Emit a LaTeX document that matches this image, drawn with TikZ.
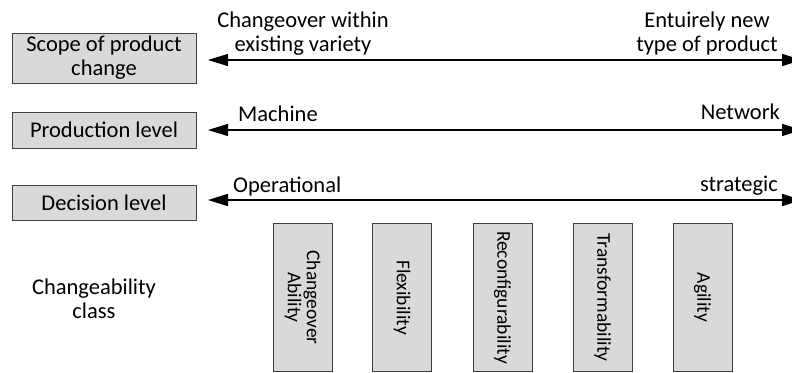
\documentclass[tikz,border=0pt]{standalone}
\usepackage{fontspec}
\setmainfont{Carlito}
\usetikzlibrary{arrows.meta}
\definecolor{boxfill}{HTML}{D9D9D9}
\definecolor{boxline}{HTML}{404040}
\begin{document}
\begin{tikzpicture}[x=1pt,y=-1pt,
  lbox/.style={draw=boxline, fill=boxfill, line width=0.8pt, minimum width=184pt, inner sep=0pt, align=center, font=\fontsize{22.5}{24}\selectfont},
  vbox/.style={draw=boxline, fill=boxfill, line width=0.8pt, rotate=-90, minimum width=148pt, minimum height=59pt, inner sep=0pt, align=center, font=\fontsize{19.5}{19}\selectfont},
  lbl/.style={inner sep=0pt, font=\fontsize{22.5}{24}\selectfont},
  axis/.style={line width=1.3pt, {Triangle[length=20pt,width=12pt]}-{Triangle[length=20pt,width=12pt]}}
]
\useasboundingbox (0,0) rectangle (792,372);
% left boxes
\node[lbox, minimum height=50pt] (scope) at (104,58) {Scope of product\\change};
\node[lbox, minimum height=36pt] (prod) at (104,130) {Production level};
\node[lbox, minimum height=35pt] (dec) at (104,202.5) {Decision level};
% axes
\coordinate (l1) at (208,60);  \coordinate (r1) at (802,60);
\coordinate (l2) at (208,130); \coordinate (r2) at (802,130);
\coordinate (l3) at (208,200); \coordinate (r3) at (802,200);
\draw[axis] (l1) -- (r1);
\draw[axis] (l2) -- (r2);
\draw[axis, line width=1.6pt] (l3) -- (r3);
% axis labels
\node[lbl, align=center, anchor=base] (t1) at (303,51) {Changeover within\\existing variety};
\node[lbl, align=center, anchor=base] (t2) at (707,51) {Entuirely new\\type of product};
\node[lbl, anchor=base west] (m) at (238,121) {Machine};
\node[lbl, anchor=base east] (n) at (780,119) {Network};
\node[lbl, anchor=base west] (o) at (233,192) {Operational};
\node[lbl, anchor=base east] (s) at (778,191) {strategic};
% changeability class
\node[lbl, align=center, anchor=base] (cc) at (94,318) {Changeability\\class};
% vertical boxes
\node[vbox] (v1) at (302.5,297.5) {Changeover\\Ability};
\node[vbox] (v2) at (402,297.5) {Flexibility};
\node[vbox] (v3) at (502.5,297.5) {Reconfigurability};
\node[vbox] (v4) at (602.5,297.5) {Transformability};
\node[vbox] (v5) at (702.5,297.5) {Agility};
\end{tikzpicture}
\end{document}
